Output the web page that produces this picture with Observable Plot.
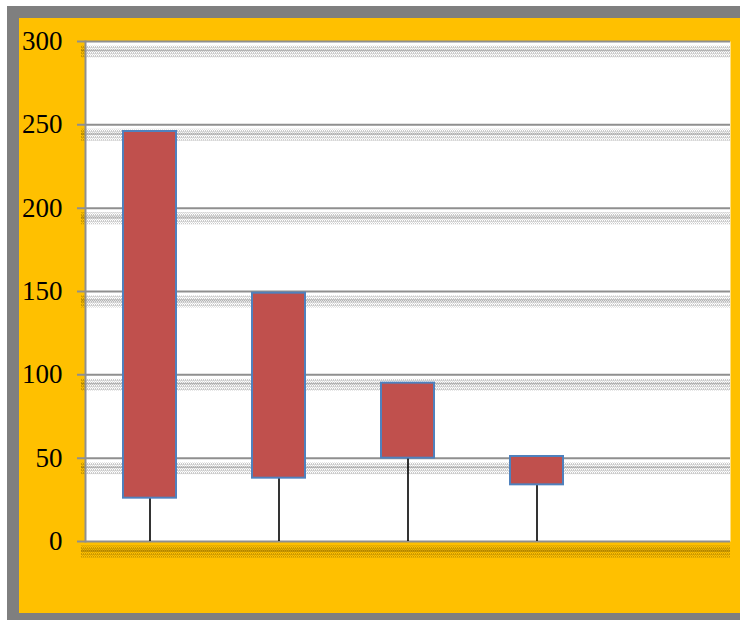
<!DOCTYPE html>
<html><head><meta charset="utf-8">
<script src="https://cdn.jsdelivr.net/npm/d3@7"></script>
<script src="https://cdn.jsdelivr.net/npm/@observablehq/plot@0.6"></script>
<style>
html,body{margin:0;padding:0;background:#fff;overflow:hidden}
#outer{position:absolute;left:7px;top:6px;width:733px;height:614px;background:#7f7f7f}
#chart{position:absolute;left:12px;top:12px;width:721px;height:595px;background:#FFC000}
</style></head><body><div id="outer"><div id="chart"></div></div>
<script>
const categories = ["1", "2", "3", "4", "5"];
const lows = [26, 38, 50, 34, null];
const highs = [246, 149, 95, 51, null];
const yTicks = [0, 50, 100, 150, 200, 250, 300];

const data = categories.map((c, i) => ({category: c, low: lows[i], high: highs[i]}));
const bars = data.filter(d => d.low != null);

const chart = Plot.plot({
  width: 721, height: 595,
  marginLeft: 66, marginRight: 10, marginTop: 23, marginBottom: 72,
  style: {background: "transparent", fontFamily: "'Liberation Serif','Times New Roman',serif", color: "black", overflow: "visible"},
  x: {domain: categories, paddingInner: 0.59, paddingOuter: 0.295, axis: null},
  y: {domain: [0, 300], label: null},
  marks: [
    Plot.frame({fill: "white", stroke: "none"}),
    Plot.ruleY(yTicks, {stroke: "url(#hatchA)", strokeWidth: 12, dy: 10, insetLeft: -4}),
    Plot.ruleY(yTicks, {stroke: "url(#hatchB)", strokeWidth: 2, dy: 9, insetLeft: -4}),
    Plot.ruleY(yTicks, {stroke: "#8f8f8f", strokeWidth: 2, insetLeft: -8}),
    Plot.frame({anchor: "left", stroke: "#8f8f8f", strokeWidth: 2}),
    Plot.ruleX(bars, {x: "category", y1: 0, y2: "low", stroke: "black", strokeWidth: 1.6}),
    Plot.barY(bars, {x: "category", y1: "low", y2: "high", fill: "#C0504D", stroke: "#4F81BD", strokeWidth: 2}),
    Plot.axisY(yTicks, {tickSize: 0, tickPadding: 23, fontSize: 27, fill: "black", tickFormat: d => String(d)})
  ]
});

const ns = "http://www.w3.org/2000/svg";
const defs = document.createElementNS(ns, "defs");
defs.innerHTML =
  '<pattern id="hatchA" patternUnits="userSpaceOnUse" width="2" height="3">' +
  '<rect x="0" y="0" width="1" height="1" fill="rgba(0,0,0,0.42)"/>' +
  '<rect x="1" y="1" width="1" height="1" fill="rgba(0,0,0,0.26)"/></pattern>' +
  '<pattern id="hatchB" patternUnits="userSpaceOnUse" width="2" height="2">' +
  '<rect x="1" y="0" width="1" height="1" fill="rgba(0,0,0,0.38)"/>' +
  '<rect x="0" y="1" width="1" height="1" fill="rgba(0,0,0,0.25)"/></pattern>';
chart.insertBefore(defs, chart.firstChild);
document.getElementById("chart").appendChild(chart);
</script>
</body></html>
